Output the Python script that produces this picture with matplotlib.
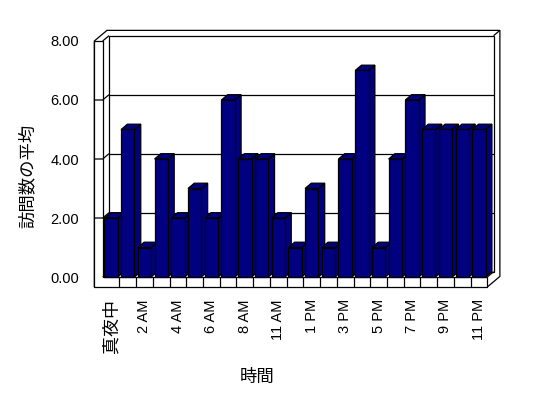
import matplotlib
matplotlib.use("Agg")
import matplotlib.pyplot as plt
from matplotlib.patches import Polygon, Rectangle

#############################################################
# Data
#############################################################

hours = ['真夜中', '1 AM', '2 AM', '3 AM', '4 AM', '5 AM', '6 AM', '7 AM',
         '8 AM', '9 AM', '11 AM', '正午', '1 PM', '2 PM', '3 PM', '4 PM',
         '5 PM', '6 PM', '7 PM', '8 PM', '9 PM', '10 PM', '11 PM']
avg_visits = [2, 5, 1, 4, 2, 3, 2, 6, 4, 4, 2, 1, 3, 1, 4, 7, 1, 4, 6, 5, 5, 5, 5]
y_ticks = [0, 2, 4, 6, 8]
y_tick_labels = ['0.00', '2.00', '4.00', '6.00', '8.00']

x_title = '時間'
y_title = '訪問数の平均'

#############################################################
# Settings
#############################################################

bar_color = '#000080'
line_color = 'black'
lw = 0.9

# fake 3d depth (data units)
dx = 0.377
dy = 0.18
wall_w = 0.5     # left wall thickness
floor_t = 0.34   # floor thickness

jp_font = ['Noto Sans CJK JP', 'DejaVu Sans']
num_font = ['Liberation Sans', 'Noto Sans CJK JP']

#############################################################
# Figure
#############################################################

fig = plt.figure(figsize=(5.48, 3.98), dpi=100)
fig.patch.set_facecolor('white')
ax = fig.add_axes([0.1874, 0.3040, 0.7018, 0.5930])

n = len(avg_visits)
ymax = y_ticks[-1]
ax.set_xlim(0, n)
ax.set_ylim(0, ymax)
for s in ax.spines.values():
    s.set_visible(False)
ax.patch.set_visible(False)


def poly(pts, fc='white', z=1):
    p = Polygon(pts, closed=True, facecolor=fc, edgecolor=line_color,
                linewidth=lw, clip_on=False, zorder=z, joinstyle='miter')
    ax.add_patch(p)


def line(xs, ys, z=1.5):
    ax.plot(xs, ys, color=line_color, linewidth=lw, clip_on=False,
            zorder=z, solid_capstyle='butt')


# outer silhouette of walls + floor
poly([(-wall_w, -floor_t), (-wall_w, ymax), (-wall_w + 2 * dx, ymax + 2 * dy),
      (n + 2 * dx, ymax + 2 * dy), (n + 2 * dx, -floor_t + 2 * dy),
      (n, -floor_t)])

# back wall inner face
poly([(dx, dy), (dx, ymax + dy), (n + dx, ymax + dy), (n + dx, dy)])

# left wall front face and floor front face
poly([(-wall_w, ymax), (0, ymax), (0, 0), (n, 0), (n, -floor_t),
      (-wall_w, -floor_t)])
line([0, dx], [ymax, ymax + dy])
line([0, dx], [0, dy])
line([n, n + dx], [0, dy])
line([n + dx, n + 2 * dx], [ymax + dy, ymax + 2 * dy])

# floor divisions
for k in range(1, n):
    line([k, k], [-floor_t, 0])

# gridlines on back wall + small marks on left wall
for v in y_ticks[1:-1]:
    line([dx, n + dx], [v + dy, v + dy])
    line([-wall_w, 0, dx], [v, v, v + dy])

#############################################################
# Bars
#############################################################

bw = 0.8
off = 0.1
for i, v in enumerate(avg_visits):
    x0 = i + off
    z = 3 + i * 0.01
    poly([(x0 + bw, 0), (x0 + bw + dx, dy), (x0 + bw + dx, v + dy), (x0 + bw, v)],
         fc=bar_color, z=z)
    poly([(x0, v), (x0 + bw, v), (x0 + bw + dx, v + dy), (x0 + dx, v + dy)],
         fc=bar_color, z=z)
    ax.add_patch(Rectangle((x0, 0), bw, v, facecolor=bar_color,
                           edgecolor=line_color, linewidth=lw,
                           clip_on=False, zorder=z))

#############################################################
# Ticks and titles
#############################################################

ax.set_yticks(y_ticks)
ax.set_yticklabels(y_tick_labels, family=num_font, fontsize=10.5)
ax.tick_params(axis='y', length=0, pad=17)

xt = [i + 0.5 for i in range(0, n, 2)]
ax.set_xticks(xt)
ax.set_xticklabels([hours[i] for i in range(0, n, 2)], rotation=90,
                   family=num_font, fontsize=10.5)
ax.tick_params(axis='x', length=0, pad=16)
for lab in ax.get_xticklabels():
    if lab.get_text() == '真夜中':
        lab.set_family(jp_font)
        lab.set_fontsize(13)

fig.text(0.0511, 0.559, y_title, rotation=90, ha='center', va='center',
         family=jp_font, fontsize=12.5)
fig.text(0.4695, 0.0535, x_title, ha='center', va='center',
         family=jp_font, fontsize=12.5)

plt.savefig('out.png', dpi=100, facecolor='white')
